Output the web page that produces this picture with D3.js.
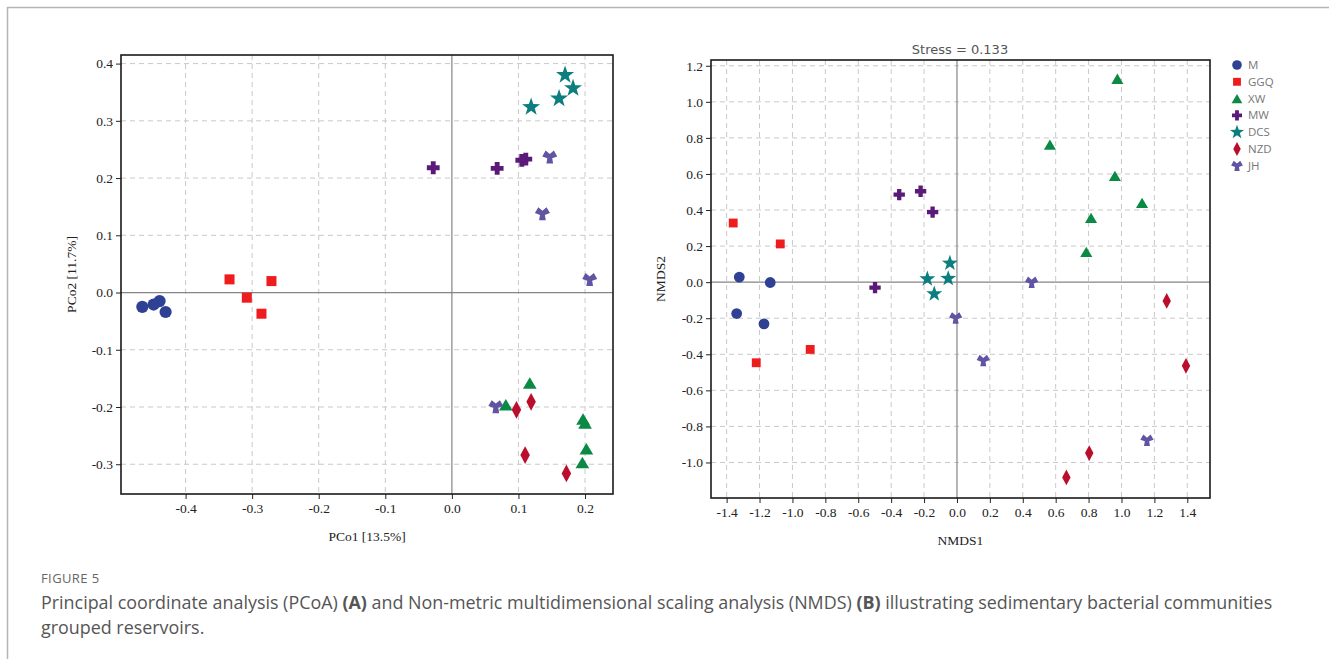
<!DOCTYPE html>
<html>
<head>
<meta charset="utf-8">
<script src="https://cdn.jsdelivr.net/npm/d3@7"></script>
<style>
  html, body { margin: 0; padding: 0; background: #fff; }
  svg { display: block; }
</style>
</head>
<body>
<svg id="chart" width="1329" height="659"></svg>
<script>
// ---------------- DATA ----------------
const groups = ["M", "GGQ", "XW", "MW", "DCS", "NZD", "JH"];
const groupColors = ["#2f4193", "#ee1c1c", "#0b8a46", "#5c1a78", "#0d7e7e", "#bb0e2c", "#6253a3"];
const groupShapes = ["circle", "square", "triangle", "plus", "star", "diamond", "yshape"];

// PCoA (panel A): [PCo1, PCo2]
const pcoaM   = [[-0.465, -0.025], [-0.448, -0.021], [-0.439, -0.015], [-0.430, -0.034]];
const pcoaGGQ = [[-0.334, 0.023], [-0.271, 0.020], [-0.308, -0.009], [-0.286, -0.037]];
const pcoaXW  = [[0.117, -0.158], [0.081, -0.196], [0.197, -0.221], [0.200, -0.228], [0.202, -0.273], [0.196, -0.297]];
const pcoaMW  = [[-0.028, 0.218], [0.068, 0.217], [0.105, 0.231], [0.111, 0.233]];
const pcoaDCS = [[0.170, 0.380], [0.182, 0.357], [0.161, 0.339], [0.119, 0.324]];
const pcoaNZD = [[0.119, -0.191], [0.097, -0.205], [0.110, -0.284], [0.172, -0.316]];
const pcoaJH  = [[0.147, 0.237], [0.136, 0.138], [0.207, 0.023], [0.066, -0.199]];

// NMDS (panel B): [NMDS1, NMDS2]
const nmdsM   = [[-1.323, 0.028], [-1.135, -0.002], [-1.339, -0.174], [-1.173, -0.231]];
const nmdsGGQ = [[-1.360, 0.328], [-1.074, 0.212], [-1.220, -0.447], [-0.892, -0.373]];
const nmdsXW  = [[0.975, 1.128], [0.565, 0.763], [0.960, 0.589], [1.125, 0.439], [0.815, 0.356], [0.786, 0.168]];
const nmdsMW  = [[-0.351, 0.485], [-0.221, 0.504], [-0.148, 0.388], [-0.498, -0.030]];
const nmdsDCS = [[-0.043, 0.105], [-0.180, 0.018], [-0.053, 0.020], [-0.138, -0.065]];
const nmdsNZD = [[1.275, -0.104], [1.392, -0.464], [0.804, -0.948], [0.665, -1.083]];
const nmdsJH  = [[0.454, 0.000], [-0.008, -0.198], [0.160, -0.434], [1.155, -0.876]];

const pcoaSeries = [pcoaM, pcoaGGQ, pcoaXW, pcoaMW, pcoaDCS, pcoaNZD, pcoaJH];
const nmdsSeries = [nmdsM, nmdsGGQ, nmdsXW, nmdsMW, nmdsDCS, nmdsNZD, nmdsJH];

const pcoaXTicks = [-0.4, -0.3, -0.2, -0.1, 0.0, 0.1, 0.2];
const pcoaYTicks = [-0.3, -0.2, -0.1, 0.0, 0.1, 0.2, 0.3, 0.4];
const nmdsXTicks = [-1.4, -1.2, -1.0, -0.8, -0.6, -0.4, -0.2, 0.0, 0.2, 0.4, 0.6, 0.8, 1.0, 1.2, 1.4];
const nmdsYTicks = [-1.0, -0.8, -0.6, -0.4, -0.2, 0.0, 0.2, 0.4, 0.6, 0.8, 1.0, 1.2];

const pcoaXDomain = [-0.497, 0.242];
const pcoaYDomain = [-0.352, 0.415];
const nmdsXDomain = [-1.495, 1.538];
const nmdsYDomain = [-1.197, 1.232];

const pcoaXLabel = "PCo1 [13.5%]";
const pcoaYLabel = "PCo2 [11.7%]";
const nmdsXLabel = "NMDS1";
const nmdsYLabel = "NMDS2";
const stressText = "Stress = 0.133";

const figureLabel = "FIGURE 5";
// ---------------- DRAW ----------------
const svg = d3.select("#chart");

// figure frame (top + left rule)
svg.append("line").attr("x1", 7).attr("x2", 1329).attr("y1", 7.5).attr("y2", 7.5)
  .attr("stroke", "#b5b5b5").attr("stroke-width", 1.5);
svg.append("line").attr("x1", 7.5).attr("x2", 7.5).attr("y1", 7).attr("y2", 659)
  .attr("stroke", "#b5b5b5").attr("stroke-width", 1.5);

function shapePath(shape, s) {
  switch (shape) {
    case "circle": {
      const r = s;
      return `M${r},0A${r},${r},0,1,1,${-r},0A${r},${r},0,1,1,${r},0Z`;
    }
    case "square": {
      const h = s * 0.82;
      return `M${-h},${-h}H${h}V${h}H${-h}Z`;
    }
    case "triangle": {
      const w = s * 1.12, hh = s * 0.95;
      return `M0,${-hh}L${w},${hh}L${-w},${hh}Z`;
    }
    case "plus": {
      const L = s * 1.05, w = s * 0.4;
      return `M${-w},${-L}H${w}V${-w}H${L}V${w}H${w}V${L}H${-w}V${w}H${-L}V${-w}H${-w}Z`;
    }
    case "star": {
      const R = s * 1.55, r = R * 0.4;
      let p = "";
      for (let i = 0; i < 10; i++) {
        const a = -Math.PI / 2 + i * Math.PI / 5;
        const rr = i % 2 === 0 ? R : r;
        p += (i === 0 ? "M" : "L") + (rr * Math.cos(a)).toFixed(2) + "," + (rr * Math.sin(a)).toFixed(2);
      }
      return p + "Z";
    }
    case "diamond": {
      const w = s * 0.78, hh = s * 1.45;
      return `M0,${-hh}L${w},0L0,${hh}L${-w},0Z`;
    }
    case "yshape": {
      // filled "Y": arms up-left, up-right, down; single outline polygon
      const L = s * 1.1, w = s * 0.4, we = s * 0.55;
      const angles = [-150, -30, 90];
      const pts = [];
      angles.forEach(deg => {
        const a = deg * Math.PI / 180;
        const dx = Math.cos(a), dy = Math.sin(a);
        const nx = -dy, ny = dx;
        pts.push([L * dx - nx * we, L * dy - ny * we]);
        pts.push([L * dx + nx * we, L * dy + ny * we]);
        const b = a + Math.PI / 3;
        const d = w / Math.sin(Math.PI / 3);
        pts.push([d * Math.cos(b), d * Math.sin(b)]);
      });
      return "M" + pts.map(q => q[0].toFixed(2) + "," + q[1].toFixed(2)).join("L") + "Z";
    }
  }
}

const fmt = v => d3.format(".1f")(v).replace("\u2212", "-");

function panel(opts) {
  const { x0, x1, y0, y1, xDomain, yDomain, xTicks, yTicks, series, xLabel, yLabel, markerScale, xLabelY, yLabelX } = opts;
  const g = svg.append("g");
  const x = d3.scaleLinear().domain(xDomain).range([x0, x1]);
  const y = d3.scaleLinear().domain(yDomain).range([y1, y0]);

  g.append("g").selectAll("line").data(xTicks.filter(t => t !== 0)).join("line")
    .attr("x1", d => x(d)).attr("x2", d => x(d)).attr("y1", y0).attr("y2", y1)
    .attr("stroke", "#c9c9c9").attr("stroke-width", 1).attr("stroke-dasharray", "5,4");
  g.append("g").selectAll("line").data(yTicks.filter(t => t !== 0)).join("line")
    .attr("y1", d => y(d)).attr("y2", d => y(d)).attr("x1", x0).attr("x2", x1)
    .attr("stroke", "#c9c9c9").attr("stroke-width", 1).attr("stroke-dasharray", "5,4");
  g.append("line").attr("x1", x(0)).attr("x2", x(0)).attr("y1", y0).attr("y2", y1)
    .attr("stroke", "#858585").attr("stroke-width", 1.2);
  g.append("line").attr("y1", y(0)).attr("y2", y(0)).attr("x1", x0).attr("x2", x1)
    .attr("stroke", "#858585").attr("stroke-width", 1.2);

  const xAxis = g.append("g").attr("transform", `translate(0,${y1})`)
    .call(d3.axisBottom(x).tickValues(xTicks).tickFormat(fmt).tickSize(5).tickPadding(4));
  const yAxis = g.append("g").attr("transform", `translate(${x0},0)`)
    .call(d3.axisLeft(y).tickValues(yTicks).tickFormat(fmt).tickSize(5).tickPadding(3));
  [xAxis, yAxis].forEach(a => {
    a.select(".domain").remove();
    a.selectAll("text").attr("font-family", "'Liberation Serif', 'Times New Roman', serif")
      .attr("font-size", 13.5).attr("fill", "#222");
    a.selectAll("line").attr("stroke", "#222");
  });

  g.append("rect").attr("x", x0).attr("y", y0).attr("width", x1 - x0).attr("height", y1 - y0)
    .attr("fill", "none").attr("stroke", "#1a1a1a").attr("stroke-width", 1.6);

  series.forEach((pts, gi) => {
    g.append("g").selectAll("path").data(pts).join("path")
      .attr("d", shapePath(groupShapes[gi], markerScale))
      .attr("transform", d => `translate(${x(d[0])},${y(d[1])})`)
      .attr("fill", groupColors[gi]);
  });

  g.append("text").attr("x", (x0 + x1) / 2).attr("y", xLabelY)
    .attr("text-anchor", "middle").attr("font-family", "'Liberation Serif', 'Times New Roman', serif")
    .attr("font-size", 13.5).attr("fill", "#222").text(xLabel);
  g.append("text").attr("transform", `translate(${yLabelX},${(y0 + y1) / 2}) rotate(-90)`)
    .attr("text-anchor", "middle").attr("font-family", "'Liberation Serif', 'Times New Roman', serif")
    .attr("font-size", 13.5).attr("fill", "#222").text(yLabel);
  return { x, y };
}

panel({ x0: 121, x1: 613, y0: 55, y1: 494, xDomain: pcoaXDomain, yDomain: pcoaYDomain,
  xTicks: pcoaXTicks, yTicks: pcoaYTicks, series: pcoaSeries, xLabel: pcoaXLabel, yLabel: pcoaYLabel,
  markerScale: 6.1, xLabelY: 541, yLabelX: 76 });

panel({ x0: 711, x1: 1210, y0: 60, y1: 498, xDomain: nmdsXDomain, yDomain: nmdsYDomain,
  xTicks: nmdsXTicks, yTicks: nmdsYTicks, series: nmdsSeries, xLabel: nmdsXLabel, yLabel: nmdsYLabel,
  markerScale: 5.4, xLabelY: 545, yLabelX: 665 });

svg.append("text").attr("x", 960).attr("y", 54).attr("text-anchor", "middle")
  .attr("font-family", "'DejaVu Sans', sans-serif").attr("font-size", 13).attr("fill", "#555")
  .text(stressText);

const leg = svg.append("g");
groups.forEach((name, i) => {
  const yy = 65 + i * 16.8;
  leg.append("path").attr("d", shapePath(groupShapes[i], 4.8))
    .attr("transform", `translate(1237,${yy})`).attr("fill", groupColors[i]);
  leg.append("text").attr("x", 1248).attr("y", yy + 4).attr("font-family", "'Open Sans', sans-serif")
    .attr("font-size", 11.5).attr("fill", "#777").text(name);
});

svg.append("text").attr("x", 41).attr("y", 583).attr("font-family", "'Open Sans', sans-serif")
  .attr("font-size", 13).attr("letter-spacing", 0.4).attr("fill", "#666").text(figureLabel);
const cap1 = svg.append("text").attr("x", 41).attr("y", 609).attr("font-family", "'Open Sans', sans-serif")
  .attr("font-size", 17.9).attr("fill", "#555");
cap1.append("tspan").text("Principal coordinate analysis (PCoA) ");
cap1.append("tspan").attr("font-weight", "bold").text("(A)");
cap1.append("tspan").text(" and Non-metric multidimensional scaling analysis (NMDS) ");
cap1.append("tspan").attr("font-weight", "bold").text("(B)");
cap1.append("tspan").text(" illustrating sedimentary bacterial communities");
svg.append("text").attr("x", 41).attr("y", 634).attr("font-family", "'Open Sans', sans-serif")
  .attr("font-size", 17.9).attr("fill", "#555").text("grouped reservoirs.");
</script>
</body>
</html>
